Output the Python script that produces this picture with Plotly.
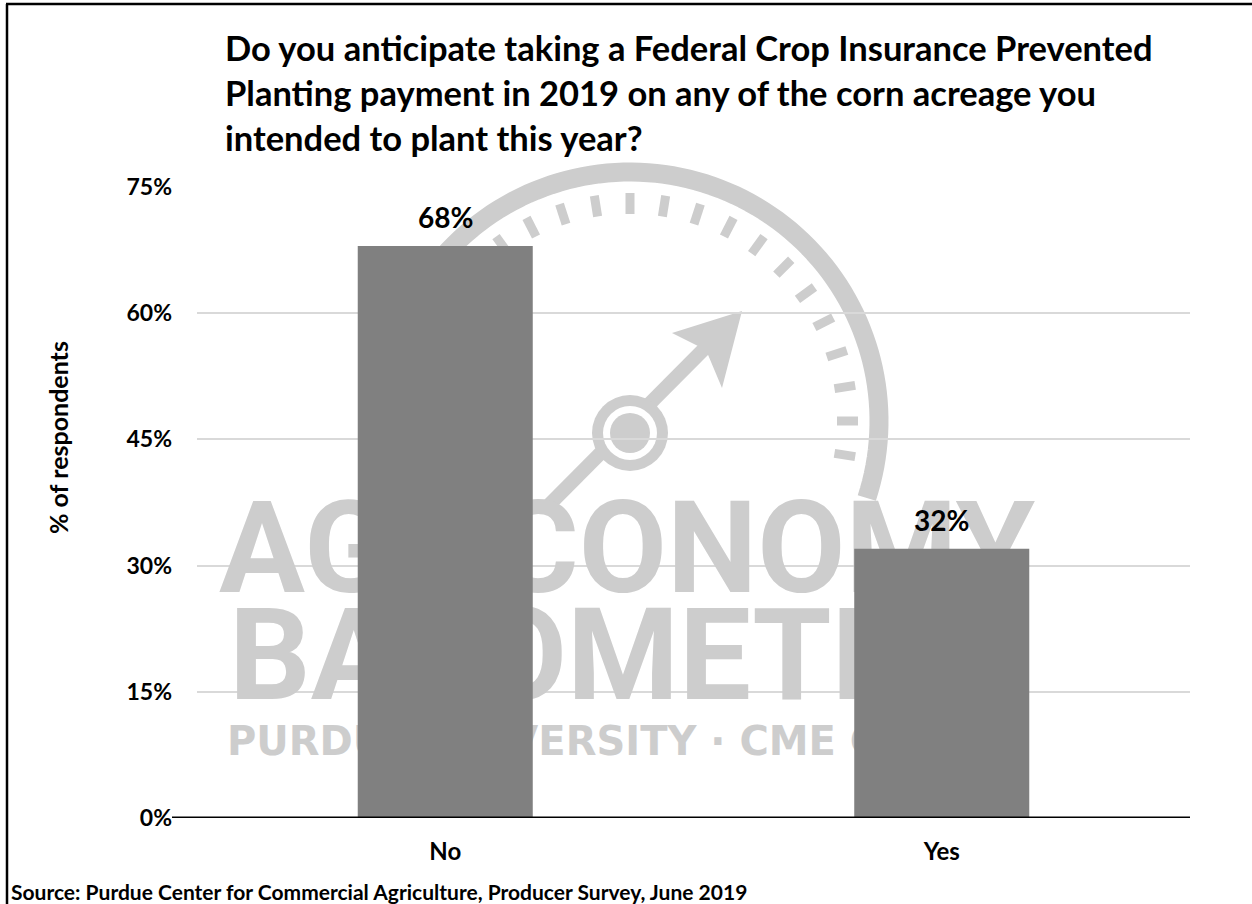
import numpy as np
import plotly.graph_objects as go

# ---------------- data ----------------
categories = ["No", "Yes"]
values = [68, 32]
y_tick_vals = [0, 15, 30, 45, 60, 75]
y_tick_text = ["0%", "15%", "30%", "45%", "60%", "75%"]

title_lines = [
    "Do you anticipate taking a Federal Crop Insurance Prevented",
    "Planting payment in 2019 on any of the corn acreage you",
    "intended to plant this year?",
]
y_title = "% of respondents"
source_text = "Source: Purdue Center for Commercial Agriculture, Producer Survey, June 2019"
wm_lines = ["AG ECONOMY", "BAROMETER", "PURDUE UNIVERSITY \u00b7 CME GROUP"]

# ---------------- geometry (pixels) ----------------
W, H = 1252, 904
L, R, T, B = 197, 1190, 187, 818


def px(x):
    return (x - L) / (R - L)


def py(y):
    return (B - y) / (B - T)


FONT = "Lato"
WM = "#cdcdcd"

fig = go.Figure()

# ---- watermark text (base axes in pixel units, drawn beneath the bars) ----
fig.add_trace(go.Scatter(
    x=[219, 229, 227], y=[560, 667, 745], mode="text",
    text=wm_lines, textposition="middle right",
    textfont=dict(family=["Roboto", "Roboto", "DejaVu Sans"], size=[128, 128, 40],
                  color=WM, weight="bold"),
    hoverinfo="skip", showlegend=False, xaxis="x", yaxis="y", cliponaxis=False,
))

# ---- bars on overlaying axes ----
fig.add_trace(go.Bar(
    x=categories, y=values, marker=dict(color="#808080", line=dict(width=0)),
    xaxis="x2", yaxis="y2", showlegend=False, hoverinfo="skip",
))

shapes = []
# gauge watermark decoration (pixel positions converted to paper coords)
cx, cy, r = 630, 421, 249
ang = np.radians(np.linspace(150, -18, 90))
pts = [(px(cx + r * np.cos(a)), py(cy - r * np.sin(a))) for a in ang]
path = "M " + " L ".join(f"{x:.5f},{y:.5f}" for x, y in pts)
shapes.append(dict(type="path", path=path, xref="paper", yref="paper", layer="below",
                   line=dict(color=WM, width=19)))
for a in np.radians(np.arange(126, -10, -9)):
    shapes.append(dict(type="line", xref="paper", yref="paper", layer="below",
                       x0=px(cx + 207 * np.cos(a)), y0=py(cy - 207 * np.sin(a)),
                       x1=px(cx + 228 * np.cos(a)), y1=py(cy - 228 * np.sin(a)),
                       line=dict(color=WM, width=9)))
# arrow shaft + head
shapes.append(dict(type="line", xref="paper", yref="paper", layer="below",
                   x0=px(548), y0=py(506), x1=px(708), y1=py(345),
                   line=dict(color=WM, width=14)))
head = [(742, 311), (672, 333), (706, 350), (722, 388)]
hp = "M " + " L ".join(f"{px(x):.5f},{py(y):.5f}" for x, y in head) + " Z"
shapes.append(dict(type="path", xref="paper", yref="paper", layer="below",
                   path=hp, fillcolor=WM, line=dict(width=0)))
# dial
for rr, col in [(38, WM), (27, "white"), (20, WM)]:
    shapes.append(dict(type="circle", xref="paper", yref="paper", layer="below",
                       x0=px(630 - rr), x1=px(630 + rr), y0=py(433 + rr), y1=py(433 - rr),
                       fillcolor=col, line=dict(width=0)))

# baseline axis line
shapes.append(dict(type="line", xref="paper", yref="y2", x0=px(172), x1=1, y0=0, y1=0,
                   line=dict(color="black", width=3), layer="above"))
# outer border (left and top)
shapes.append(dict(type="line", xref="paper", yref="paper", x0=px(7), x1=px(7),
                   y0=py(4), y1=py(H + 5), line=dict(color="black", width=2.5)))
shapes.append(dict(type="line", xref="paper", yref="paper", x0=px(6), x1=px(W + 5),
                   y0=py(4), y1=py(4), line=dict(color="black", width=2.5)))

annotations = []
# title lines
for line, yc in zip(title_lines, [47, 92, 137]):
    annotations.append(dict(text=f"<b>{line}</b>", xref="paper", yref="paper",
                            x=px(223), y=py(yc), xanchor="left", yanchor="middle",
                            showarrow=False, font=dict(family=FONT, size=34.5, color="black")))
# data labels
for c, v in zip(categories, values):
    annotations.append(dict(text=f"<b>{v}%</b>", xref="x2", yref="y2", x=c, y=v,
                            xanchor="center", yanchor="bottom", yshift=10, showarrow=False,
                            font=dict(family=FONT, size=28, color="black")))
# y axis title
annotations.append(dict(text=f"<b>{y_title}</b>", xref="paper", yref="paper",
                        x=px(58), y=py(438), xanchor="center", yanchor="middle",
                        textangle=-90, showarrow=False,
                        font=dict(family=FONT, size=25, color="black")))
# source
annotations.append(dict(text=f"<b>{source_text}</b>", xref="paper", yref="paper",
                        x=px(9), y=py(891), xanchor="left", yanchor="middle",
                        showarrow=False, font=dict(family=FONT, size=21, color="black")))

fig.update_layout(
    width=W, height=H,
    margin=dict(l=L, r=W - R, t=T, b=H - B, pad=0),
    paper_bgcolor="white", plot_bgcolor="rgba(0,0,0,0)",
    bargap=0.6475,
    xaxis=dict(range=[L, R], visible=False, fixedrange=True),
    yaxis=dict(range=[B, T], visible=False, fixedrange=True),
    xaxis2=dict(overlaying="x", type="category", range=[-0.5, 1.5], showgrid=False,
                showline=False, zeroline=False, ticks="", ticklabelstandoff=17,
                tickfont=dict(family=FONT, size=24, color="black", weight="bold")),
    yaxis2=dict(overlaying="y", range=[0, 75], tickvals=y_tick_vals, ticktext=y_tick_text,
                showgrid=True, gridcolor="#d9d9d9", gridwidth=1.5, zeroline=False,
                showline=False, ticks="", ticklabelstandoff=24,
                tickfont=dict(family=FONT, size=23, color="black", weight="bold")),
    shapes=shapes, annotations=annotations,
    showlegend=False,
)

fig.write_html("out.html")
